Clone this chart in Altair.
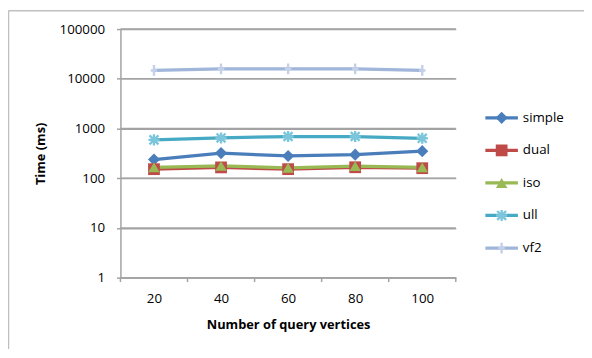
import altair as alt
import pandas as pd

# ---- data ----
x_vals = [20, 40, 60, 80, 100]
series = ["simple", "dual", "iso", "ull", "vf2"]
simple = [237, 320, 280, 298, 350]
dual = [152, 165, 152, 166, 159]
iso = [165, 177, 162, 175, 165]
ull = [590, 645, 690, 690, 635]
vf2 = [14700, 15800, 15800, 15800, 14700]
y_ticks = [1, 10, 100, 1000, 10000, 100000]
x_tick_between = [10, 30, 50, 70, 90, 110]

line_colors = ["#4A7EBB", "#BE4B48", "#98B954", "#46AAC5", "#A0B5DA"]
marker_colors = ["#4A7EBB", "#BE4B48", "#98B954", "#7CC6DC", "#C3D0E8"]
asterisk = "M-0.8,-0.8L0.8,0.8M-0.8,0.8L0.8,-0.8M0,-1L0,1M-1,0L1,0"
plus = "M0,-1L0,1M-0.6,0L0.6,0"
shapes = ["diamond", "square", "triangle-up", asterisk, plus]

values = {"simple": simple, "dual": dual, "iso": iso, "ull": ull, "vf2": vf2}
rows = []
for s in series:
    for xv, v in zip(x_vals, values[s]):
        rows.append({"series": s, "x": xv, "time": v})
df = pd.DataFrame(rows)
legend_df = pd.DataFrame({"series": series})
ticks_df = pd.DataFrame({"x": x_tick_between})
ygrid_df = pd.DataFrame({"time": y_ticks})
one = pd.DataFrame({"k": [0]})

FONT = "Open Sans"
GRID = "#A3A3A3"

color_scale = alt.Scale(domain=series, range=line_colors)
marker_scale = alt.Scale(domain=series, range=marker_colors)
shape_scale = alt.Scale(domain=series, range=shapes)
size_scale = alt.Scale(domain=series, range=[150, 120, 160, 160, 200])
xscale = alt.Scale(domain=[10, 110], nice=False, zero=False)
yscale = alt.Scale(type="log", domain=[1, 100000], nice=False)

xenc = alt.X(
    "x:Q",
    scale=xscale,
    axis=alt.Axis(
        values=x_vals,
        grid=False,
        ticks=False,
        domainColor=GRID,
        domainWidth=1.5,
        labelPadding=14,
        labelFontSize=13.5,
        labelColor="#000000",
        labelFont=FONT,
        title="Number of query vertices",
        titleFont=FONT,
        titleFontSize=13,
        titleFontWeight="bold",
        titleColor="#000000",
        titleY=48,
        titleBaseline="middle",
    ),
)

yenc = alt.Y(
    "time:Q",
    scale=yscale,
    axis=alt.Axis(
        values=y_ticks,
        format="d",
        grid=True,
        gridColor=GRID,
        gridWidth=1.5,
        gridOpacity=1,
        tickSize=4,
        tickColor=GRID,
        tickWidth=1.5,
        domainColor=GRID,
        domainWidth=1.5,
        labelPadding=12,
        labelFontSize=13.5,
        labelColor="#000000",
        labelFont=FONT,
        title="Time (ms)",
        titleFont=FONT,
        titleFontSize=13,
        titleFontWeight="bold",
        titleColor="#000000",
        titleX=-81,
        titleY=126,
        titleAngle=-90,
        titleAlign="center",
        titleBaseline="middle",
    ),
)

# horizontal grid lines at the decades (drawn from data through the y scale)
grid = alt.Chart(ygrid_df).mark_rule(color=GRID, strokeWidth=1.5).encode(
    y=alt.Y("time:Q", scale=yscale), x=alt.value(0), x2=alt.value(340)
)
# x-axis ticks between categories
xticks = alt.Chart(ticks_df).mark_rule(color=GRID, strokeWidth=1.5).encode(
    x=alt.X("x:Q", scale=xscale), y=alt.value(252), y2=alt.value(256.5)
)

lines = alt.Chart(df).mark_line(strokeWidth=3.3).encode(
    x=xenc,
    y=yenc,
    color=alt.Color("series:N", scale=color_scale, legend=None),
    order=alt.Order("x:Q"),
)

filled = alt.Chart(df).transform_filter(
    alt.FieldOneOfPredicate(field="series", oneOf=series[:3])
).mark_point(filled=True, opacity=1).encode(
    x=alt.X("x:Q", scale=xscale),
    y=alt.Y("time:Q", scale=yscale),
    fill=alt.Fill("series:N", scale=marker_scale, legend=None),
    shape=alt.Shape("series:N", scale=shape_scale, legend=None),
    size=alt.Size("series:N", scale=size_scale, legend=None),
)

opened = alt.Chart(df).transform_filter(
    alt.FieldOneOfPredicate(field="series", oneOf=series[3:])
).mark_point(filled=False, opacity=1, strokeWidth=2.4).encode(
    x=alt.X("x:Q", scale=xscale),
    y=alt.Y("time:Q", scale=yscale),
    stroke=alt.Stroke("series:N", scale=marker_scale, legend=None),
    shape=alt.Shape("series:N", scale=shape_scale, legend=None),
    size=alt.Size("series:N", scale=size_scale, legend=None),
)

data_layer = alt.layer(grid, xticks, lines, filled, opened)

ly = alt.Y(
    "series:N",
    scale=alt.Scale(type="point", domain=series, range=[90, 222], padding=0),
    axis=None,
)

leg_lines = alt.Chart(legend_df).mark_rule(strokeWidth=3.3).encode(
    x=alt.value(370), x2=alt.value(403), y=ly,
    color=alt.Color("series:N", scale=color_scale, legend=None),
)
leg_filled = alt.Chart(legend_df).transform_filter(
    alt.FieldOneOfPredicate(field="series", oneOf=series[:3])
).mark_point(filled=True, opacity=1).encode(
    x=alt.value(386.5), y=ly,
    fill=alt.Fill("series:N", scale=marker_scale, legend=None),
    shape=alt.Shape("series:N", scale=shape_scale, legend=None),
    size=alt.Size("series:N", scale=size_scale, legend=None),
)
leg_open = alt.Chart(legend_df).transform_filter(
    alt.FieldOneOfPredicate(field="series", oneOf=series[3:])
).mark_point(filled=False, opacity=1, strokeWidth=2.4).encode(
    x=alt.value(386.5), y=ly,
    stroke=alt.Stroke("series:N", scale=marker_scale, legend=None),
    shape=alt.Shape("series:N", scale=shape_scale, legend=None),
    size=alt.Size("series:N", scale=size_scale, legend=None),
)
leg_text = alt.Chart(legend_df).mark_text(
    align="left", baseline="middle", font=FONT, fontSize=13.5, color="#000000"
).encode(x=alt.value(408), y=ly, text="series:N")

legend_layer = alt.layer(leg_lines, leg_filled, leg_open, leg_text)

frame_v = alt.Chart(one).mark_rule(color="#BFBFBF", strokeWidth=1.5).encode(
    x=alt.value(-113.5), y=alt.value(-18.5), y2=alt.value(340)
)
frame_h = alt.Chart(one).mark_rule(color="#BFBFBF", strokeWidth=1.5).encode(
    x=alt.value(-113.5), x2=alt.value(480), y=alt.value(-18.5)
)

chart = alt.layer(
    data_layer, legend_layer, frame_v, frame_h
).resolve_scale(y="independent").properties(
    width=340,
    height=252,
    padding={"left": 114, "top": 19, "right": 130, "bottom": 70},
    autosize="none",
    background="#FFFFFF",
).configure_view(stroke=None)

chart.save("out.html", embed_options={"renderer": "svg", "actions": False})
